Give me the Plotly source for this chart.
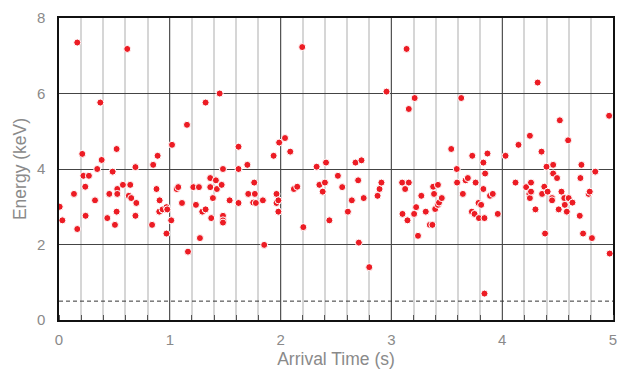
import plotly.graph_objects as go

arrival_time = [
    0.006, 0.03, 0.135, 0.165, 0.165, 0.21, 0.22, 0.237, 0.24, 0.27, 0.325, 0.345, 0.373, 0.385,
    0.436, 0.454, 0.484, 0.505, 0.52, 0.52, 0.526, 0.526, 0.577, 0.616, 0.63, 0.643, 0.652,
    0.69, 0.69, 0.698, 0.84, 0.85, 0.88, 0.89, 0.905, 0.908, 0.935, 0.97, 0.977, 0.97,
    1.013, 1.02, 1.062, 1.076, 1.11, 1.155, 1.164, 1.212, 1.236, 1.263, 1.272, 1.293, 1.323,
    1.323, 1.365, 1.365, 1.374, 1.389, 1.416, 1.425, 1.45, 1.468, 1.48, 1.48, 1.48, 1.48,
    1.54, 1.62, 1.62, 1.62, 1.70, 1.708, 1.753, 1.762, 1.768, 1.777, 1.84, 1.852, 1.937,
    1.963, 1.963, 1.98, 1.98, 1.987,
    2.04, 2.087, 2.12, 2.15, 2.195, 2.205, 2.325, 2.35, 2.38, 2.40, 2.41, 2.44, 2.517, 2.556,
    2.607, 2.643, 2.676, 2.70, 2.706, 2.73, 2.75, 2.80, 2.875, 2.893, 2.91, 2.956,
    3.097, 3.10, 3.124, 3.137, 3.145, 3.157, 3.157, 3.21, 3.205, 3.223, 3.24, 3.27, 3.31,
    3.347, 3.37, 3.377, 3.385, 3.395, 3.42, 3.42, 3.43, 3.455, 3.54, 3.59, 3.593, 3.63,
    3.645, 3.67, 3.69, 3.726, 3.73, 3.75, 3.76, 3.786, 3.79, 3.81, 3.83, 3.83, 3.84, 3.84,
    3.846, 3.867, 3.89, 3.915, 3.96,
    4.03, 4.12, 4.147, 4.216, 4.25, 4.245, 4.25, 4.26, 4.26, 4.30, 4.32, 4.355, 4.36, 4.38,
    4.387, 4.40, 4.41, 4.45, 4.45, 4.46, 4.46, 4.495, 4.51, 4.52, 4.535, 4.56, 4.565, 4.583,
    4.595, 4.60, 4.634, 4.70, 4.706, 4.715, 4.73, 4.78, 4.79, 4.81, 4.84, 4.965, 4.97,
]
energy = [
    3.00, 2.64, 3.34, 7.35, 2.41, 4.40, 3.82, 3.53, 2.76, 3.82, 3.17, 4.00, 5.76, 4.24,
    2.70, 3.34, 3.93, 2.52, 4.53, 2.87, 3.47, 3.34, 3.58, 7.18, 3.29, 3.58, 3.23,
    4.05, 2.76, 3.10, 2.52, 4.11, 3.47, 4.35, 2.87, 3.17, 2.93, 2.99, 2.93, 2.29,
    2.64, 4.64, 3.47, 3.52, 3.10, 5.17, 1.81, 3.52, 3.05, 3.52, 2.17, 2.87, 2.93,
    5.76, 3.76, 3.52, 2.70, 3.23, 3.70, 3.47, 6.00, 3.58, 4.00, 2.76, 2.64, 2.58,
    3.17, 4.59, 4.00, 3.10, 4.11, 3.34, 3.11, 3.64, 3.34, 3.10, 3.17, 1.99, 4.35,
    3.34, 3.10, 3.17, 2.87, 4.70,
    4.82, 4.46, 3.47, 3.53, 7.23, 2.46, 4.06, 3.58, 3.40, 3.64, 4.17, 2.64, 3.82, 3.52,
    2.87, 3.17, 4.17, 3.70, 2.05, 4.23, 3.23, 1.40, 3.29, 3.47, 3.64, 6.05,
    3.64, 2.81, 3.47, 7.18, 2.64, 3.64, 5.59, 5.88, 2.81, 2.99, 2.23, 3.29, 2.87,
    2.52, 2.52, 3.53, 3.34, 2.94, 3.58, 3.05, 3.11, 3.23, 4.53, 4.00, 3.64, 5.88,
    3.34, 3.70, 3.76, 2.87, 4.35, 2.81, 3.64, 3.10, 2.70, 3.05, 4.17, 3.47, 2.70, 0.70,
    3.88, 4.41, 3.29, 3.34, 2.81,
    4.35, 3.64, 4.64, 3.52, 4.88, 3.34, 3.23, 3.64, 3.40, 2.93, 6.29, 4.46, 3.34, 3.53,
    2.29, 4.06, 3.40, 3.23, 3.17, 4.11, 3.88, 3.76, 2.93, 5.29, 3.40, 3.23, 3.05, 2.87,
    4.76, 3.23, 3.11, 2.76, 3.76, 4.11, 2.29, 3.34, 3.40, 2.17, 3.93, 5.41, 1.76,
]

x_ticks = [0, 1, 2, 3, 4, 5]
y_ticks = [0, 2, 4, 6, 8]
threshold = 0.5

FONT = "Liberation Sans, Arial, sans-serif"
GRAY = "#8a8a8a"

fig = go.Figure()
fig.add_trace(go.Scatter(
    x=arrival_time, y=energy, mode="markers",
    marker=dict(color="#ec1c24", size=7, line=dict(color="white", width=1)),
    hoverinfo="x+y", showlegend=False,
))

fig.add_shape(type="line", xref="x", yref="y", x0=0, x1=5, y0=threshold, y1=threshold,
              line=dict(color="#333333", width=1, dash="4px,3px"), layer="above")

fig.update_layout(
    width=617, height=369,
    margin=dict(l=59, r=4, t=18, b=49),
    paper_bgcolor="white", plot_bgcolor="white",
    font=dict(family=FONT, color=GRAY, size=14),
    xaxis=dict(
        range=[0, 5], tickvals=x_ticks, ticktext=[str(v) for v in x_ticks],
        showgrid=True, gridcolor="#555555", gridwidth=1.2,
        showline=True, linecolor="#111111", linewidth=1.5, mirror=True,
        ticks="", zeroline=False, ticklabelstandoff=5, automargin=False,
        ticklabeloverflow="allow",
        tickfont=dict(size=15, color=GRAY, family=FONT),
        title=dict(text="Arrival Time (s)", font=dict(size=17.5, color=GRAY, family=FONT), standoff=7),
        minor=dict(dtick=0.2, showgrid=True, gridcolor="#d6d6d6", gridwidth=2,
                   ticks="inside", ticklen=5, tickcolor="#555555", tickwidth=1),
    ),
    yaxis=dict(
        range=[0, 8], tickvals=y_ticks, ticktext=[str(v) for v in y_ticks],
        showgrid=True, gridcolor="#444444", gridwidth=1.2,
        showline=True, linecolor="#111111", linewidth=1.5, mirror=True,
        ticks="", zeroline=False, ticklabelstandoff=9, automargin=False,
        ticklabeloverflow="allow",
        tickfont=dict(size=15, color=GRAY, family=FONT),
        title=dict(text="Energy (keV)", font=dict(size=17.5, color=GRAY, family=FONT), standoff=6),
    ),
)

fig.write_html("out.html")
